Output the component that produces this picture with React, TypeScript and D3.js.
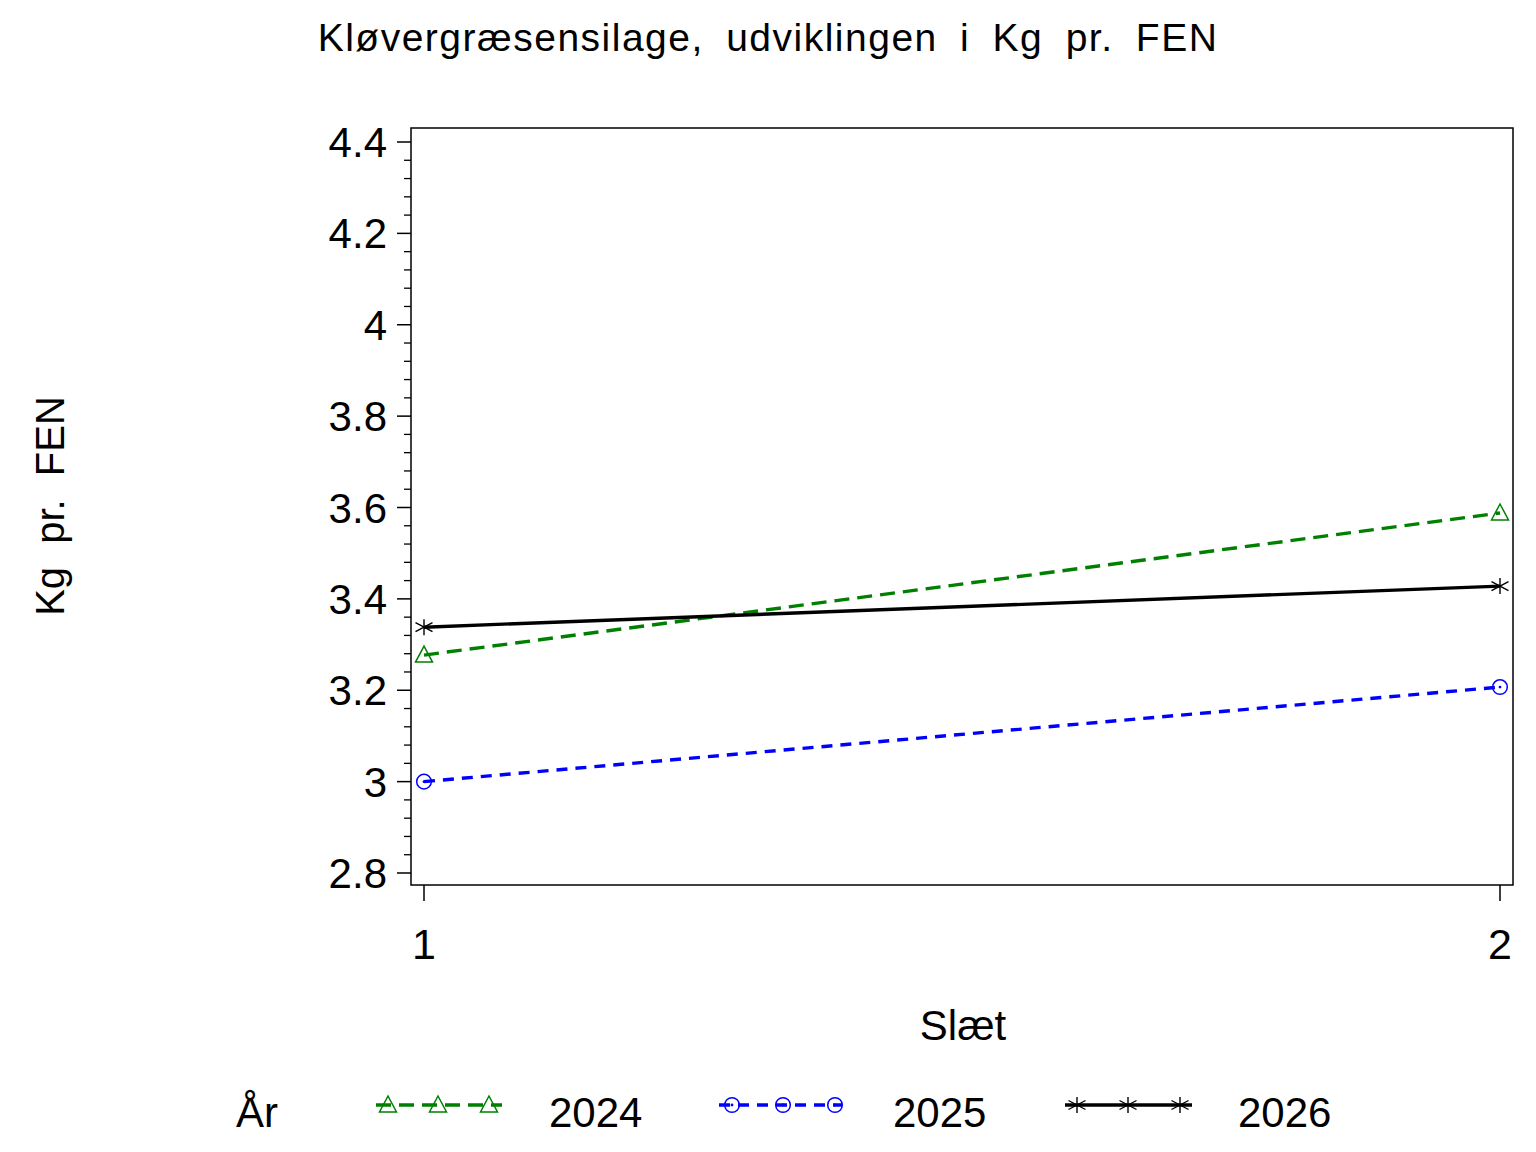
import React from "react";
import * as d3 from "d3";

const categories = [1, 2];
const years = ["2024", "2025", "2026"];
const values2024 = [3.277, 3.588];
const values2025 = [3.0, 3.207];
const values2026 = [3.338, 3.428];
const yTicks = [2.8, 3.0, 3.2, 3.4, 3.6, 3.8, 4.0, 4.2, 4.4];
const yTickLabels = ["2.8", "3", "3.2", "3.4", "3.6", "3.8", "4", "4.2", "4.4"];
const xTickLabels = ["1", "2"];

const W = 1536;
const H = 1152;
const frame = { left: 411, right: 1513, top: 128, bottom: 885 };
const FONT = "'Liberation Sans', Arial, Helvetica, sans-serif";

const x = d3.scaleLinear().domain([1, 2]).range([424, 1500]);
const y = d3.scaleLinear().domain([2.8, 4.4]).range([873, 142]);

type Marker = "triangle" | "circle" | "star";

const seriesDefs = [
  { name: years[0], values: values2024, color: "#008000", dash: "15,8", marker: "triangle" as Marker },
  { name: years[1], values: values2025, color: "#0000ff", dash: "11,8", marker: "circle" as Marker },
  { name: years[2], values: values2026, color: "#000000", dash: "", marker: "star" as Marker },
];

function MarkerShape({ kind, cx, cy, color }: { kind: Marker; cx: number; cy: number; color: string }) {
  if (kind === "triangle") {
    const p = `${cx},${cy - 9} ${cx + 8.5},${cy + 7} ${cx - 8.5},${cy + 7}`;
    return <polygon points={p} fill="none" stroke={color} strokeWidth={1.5} />;
  }
  if (kind === "circle") {
    return (
      <g>
        <circle cx={cx} cy={cy} r={7.3} fill="none" stroke={color} strokeWidth={1.5} />
        <circle cx={cx} cy={cy} r={1.4} fill={color} />
      </g>
    );
  }
  return (
    <g stroke={color} strokeWidth={1.4}>
      <line x1={cx} y1={cy - 8} x2={cx} y2={cy + 8} />
      <line x1={cx - 8.5} y1={cy - 4.5} x2={cx + 8.5} y2={cy + 4.5} />
      <line x1={cx - 8.5} y1={cy + 4.5} x2={cx + 8.5} y2={cy - 4.5} />
    </g>
  );
}

export default function App() {
  const line = d3
    .line<number>()
    .x((_, i) => x(categories[i]))
    .y((d) => y(d));

  const minorTicks: number[] = [];
  for (let i = 0; i < yTicks.length - 1; i++) {
    const a = yTicks[i];
    const b = yTicks[i + 1];
    for (let k = 1; k < 5; k++) minorTicks.push(a + ((b - a) * k) / 5);
  }

  const legendY = 1105;
  const legendItems = [
    { lineX: [376, 502], marks: [388, 438, 489], textX: 549 },
    { lineX: [719, 842], marks: [732, 783, 835], textX: 893 },
    { lineX: [1065, 1192], marks: [1077, 1128, 1180], textX: 1238 },
  ];

  return (
    <svg
      width={W}
      height={H}
      style={{ position: "absolute", left: 0, top: 0, background: "#fff" }}
      fontFamily={FONT}
    >
      <rect x={0} y={0} width={W} height={H} fill="#fff" />
      <text
        x={768}
        y={51}
        textAnchor="middle"
        fontSize={39}
        letterSpacing={1.5}
        wordSpacing={10}
        fill="#000"
      >
        Kløvergræsensilage, udviklingen i Kg pr. FEN
      </text>

      {/* frame */}
      <rect
        x={frame.left}
        y={frame.top}
        width={frame.right - frame.left}
        height={frame.bottom - frame.top}
        fill="none"
        stroke="#000"
        strokeWidth={1.5}
      />

      {/* y ticks */}
      {yTicks.map((t, i) => (
        <g key={"yt" + i}>
          <line x1={397} x2={frame.left} y1={y(t)} y2={y(t)} stroke="#000" strokeWidth={1.5} />
          <text x={387} y={y(t)} dy="0.36em" textAnchor="end" fontSize={42} fill="#000">
            {yTickLabels[i]}
          </text>
        </g>
      ))}
      {minorTicks.map((t, i) => (
        <line key={"ym" + i} x1={404} x2={frame.left} y1={y(t)} y2={y(t)} stroke="#000" strokeWidth={1.3} />
      ))}

      {/* x ticks */}
      {categories.map((c, i) => (
        <g key={"xt" + i}>
          <line x1={x(c)} x2={x(c)} y1={frame.bottom} y2={901} stroke="#000" strokeWidth={1.5} />
          <text x={x(c)} y={959} textAnchor="middle" fontSize={43} fill="#000">
            {xTickLabels[i]}
          </text>
        </g>
      ))}

      <text x={963} y={1040} textAnchor="middle" fontSize={42} fill="#000">
        Slæt
      </text>
      <text
        transform="translate(64,506) rotate(-90)"
        textAnchor="middle"
        fontSize={40}
        wordSpacing={12}
        fill="#000"
      >
        Kg pr. FEN
      </text>

      {/* series */}
      {seriesDefs.map((s) => (
        <g key={s.name}>
          <path
            d={line(s.values) || ""}
            fill="none"
            stroke={s.color}
            strokeWidth={3.4}
            strokeDasharray={s.dash || undefined}
          />
          {s.values.map((v, i) => (
            <MarkerShape key={i} kind={s.marker} cx={x(categories[i])} cy={y(v)} color={s.color} />
          ))}
        </g>
      ))}

      {/* legend */}
      <text x={236} y={1127} fontSize={42} fill="#000">
        År
      </text>
      {seriesDefs.map((s, i) => {
        const it = legendItems[i];
        return (
          <g key={"lg" + s.name}>
            <line
              x1={it.lineX[0]}
              x2={it.lineX[1]}
              y1={legendY}
              y2={legendY}
              stroke={s.color}
              strokeWidth={3.4}
              strokeDasharray={s.dash || undefined}
            />
            {it.marks.map((mx, k) => (
              <MarkerShape key={k} kind={s.marker} cx={mx} cy={legendY} color={s.color} />
            ))}
            <text x={it.textX} y={1127} fontSize={42} fill="#000">
              {s.name}
            </text>
          </g>
        );
      })}
    </svg>
  );
}
